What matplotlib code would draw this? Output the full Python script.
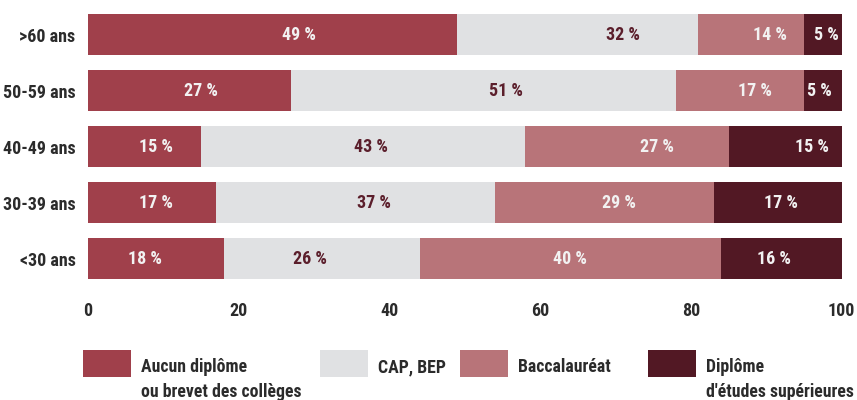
import matplotlib
matplotlib.use("Agg")
import matplotlib.pyplot as plt
from matplotlib.patches import Rectangle
import numpy as np

# Niveau de diplôme par tranche d'âge (en %)
ages = [">60 ans", "50-59 ans", "40-49 ans", "30-39 ans", "<30 ans"]
diplomes = ["Aucun diplôme\nou brevet des collèges", "CAP, BEP",
            "Baccalauréat", "Diplôme\nd'études supérieures"]
aucun = [49, 27, 15, 17, 18]
cap_bep = [32, 51, 43, 37, 26]
bac = [14, 17, 27, 29, 40]
sup = [5, 5, 15, 17, 16]
ticks = [0, 20, 40, 60, 80, 100]

colors = ["#A0404B", "#E0E1E3", "#B87479", "#521824"]
label_colors = ["#F2F2F2", "#5B1E2B", "#F2F2F2", "#F2F2F2"]
# small horizontal nudges of the value labels (in % points)
nudges = [[3.5, 6, 2.5, 0.5],
          [1.5, 3, 2, -0.5],
          [1.5, 1, 4, 3.5],
          [0.5, 2.5, 2, 0.5],
          [-1.5, -1.5, 0, -1]]

plt.rcParams["font.family"] = ["Roboto Condensed", "DejaVu Sans"]
plt.rcParams["font.weight"] = "bold"

W, H = 857, 400
fig = plt.figure(figsize=(W / 100, H / 100), dpi=100)
ax = fig.add_axes([88 / W, 1 - 286.5 / H, (841.7 - 88) / W, 280 / H])

series = [aucun, cap_bep, bac, sup]
y = np.arange(len(ages))
left = np.zeros(len(ages))
for k, vals in enumerate(series):
    vals = np.array(vals, dtype=float)
    ax.barh(y, vals, left=left, height=0.73, color=colors[k], linewidth=0)
    for i, v in enumerate(vals):
        ax.text(left[i] + v / 2 + nudges[i][k], y[i], f"{int(v)} %",
                ha="center", va="center", fontsize=13, fontweight="bold",
                color=label_colors[k])
    left += vals

ax.set_xlim(0, 100)
ax.set_ylim(len(ages) - 0.5, -0.5)
ax.set_yticks(y)
ax.set_yticklabels(ages)
ax.set_xticks(ticks)
ax.tick_params(length=0, labelsize=13, colors="#2B2B2B", pad=9)
ax.tick_params(axis="x", pad=11)
for s in ax.spines.values():
    s.set_visible(False)

# legend drawn by hand: swatch + text top-aligned below it
leg_x = [83, 320, 460, 648]
for k, name in enumerate(diplomes):
    fig.add_artist(Rectangle((leg_x[k] / W, 1 - 377 / H), 48 / W, 27 / H,
                             transform=fig.transFigure, color=colors[k], lw=0))
    fig.text((leg_x[k] + 58) / W, 1 - 358.5 / H, name, ha="left", va="top",
             fontsize=12.8, fontweight="bold", color="#2B2B2B", linespacing=1.45)

fig.savefig("out.png", dpi=100)
